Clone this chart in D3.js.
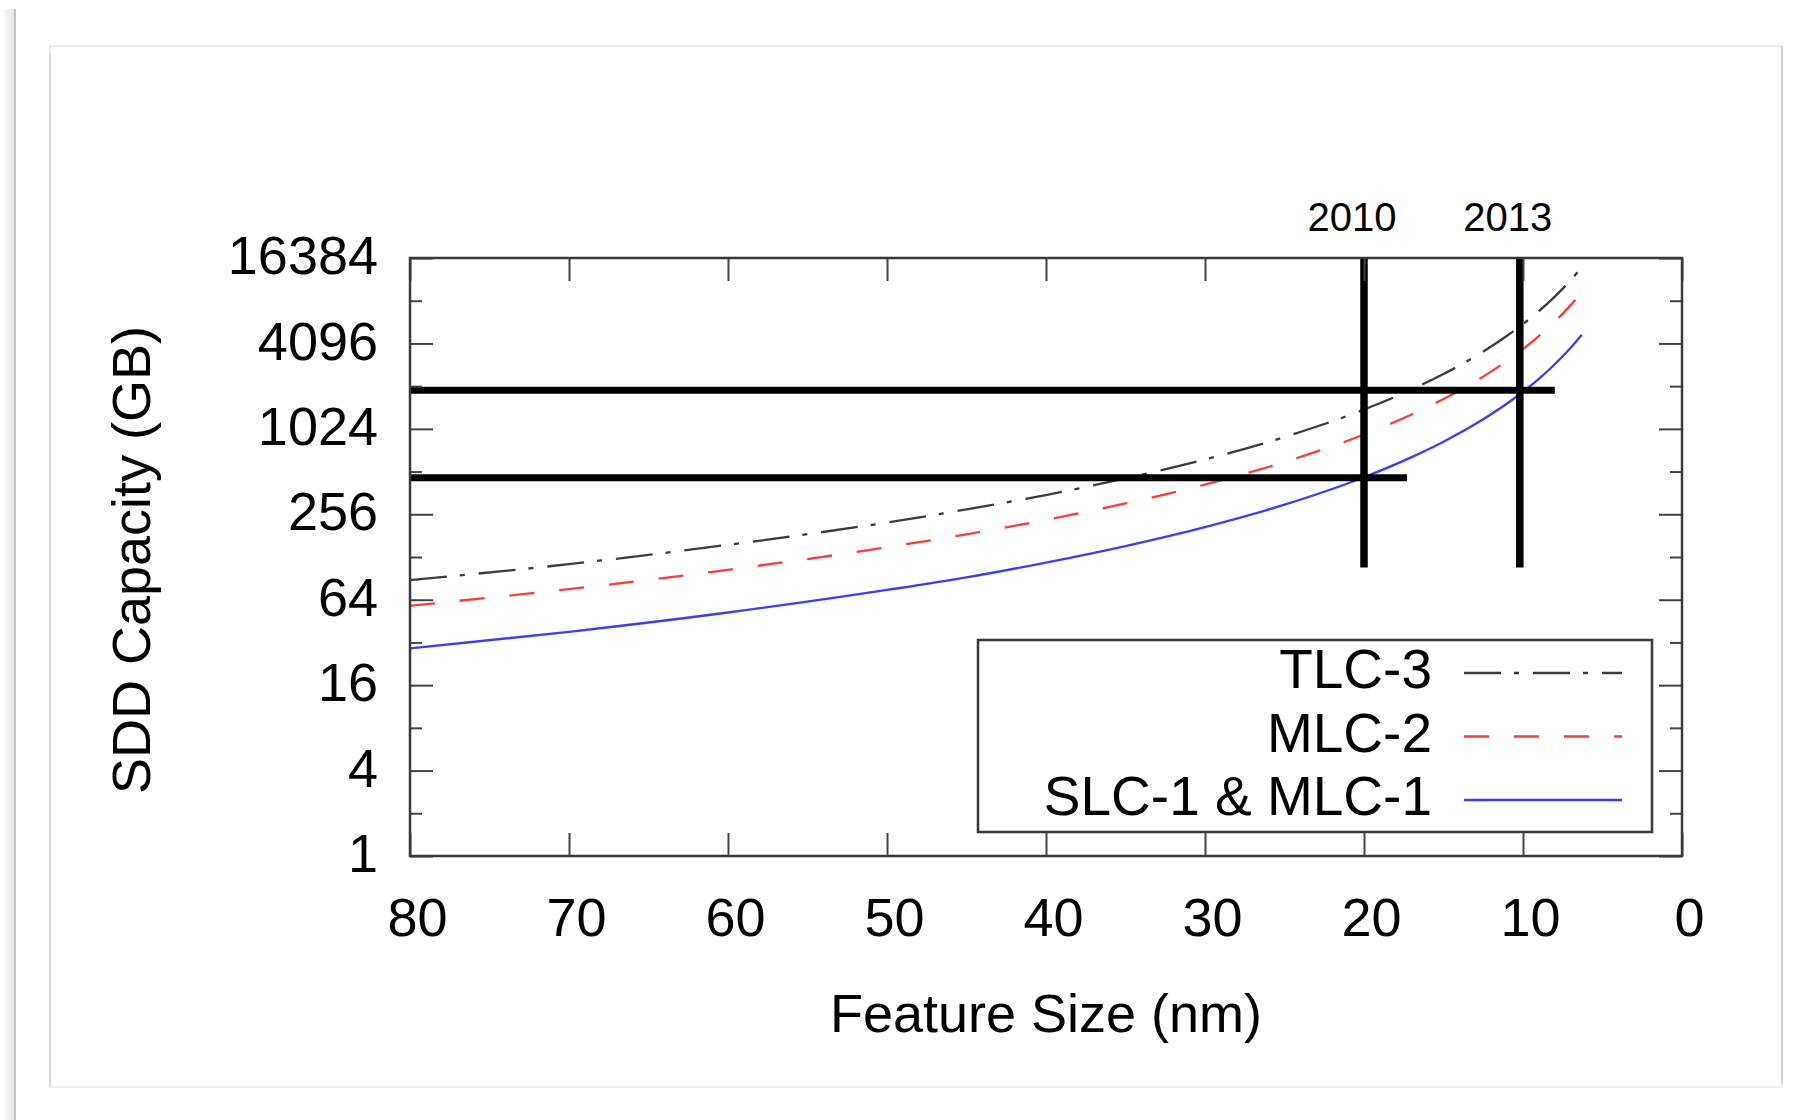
<!DOCTYPE html>
<html>
<head>
<meta charset="utf-8">
<script src="https://cdn.jsdelivr.net/npm/d3@7"></script>
<style>
  body { margin: 0; background: #fff; }
  svg { display: block; font-family: "Liberation Sans", Arial, Helvetica, sans-serif; }
</style>
</head>
<body>
<div id="chart"></div>
<script>
// Values (feature size in nm, capacity in GB)
const featureSizes = [80, 70, 60, 50, 45, 40, 35, 30, 25, 20, 17, 15, 13, 11, 10, 9, 8, 7, 6.3];
const tlc3Capacity = [88, 114, 156, 224, 277, 350, 458, 623, 897, 1401, 1941, 2493, 3318, 4635, 5607, 6921, 8760, 11442, 14127];
const mlc2Capacity = [58, 76, 104, 150, 185, 234, 305, 415, 598, 934, 1294, 1662, 2212, 3090, 3738, 4614, 5840, 7628, 9418];
const slcCapacity = [29, 38, 52, 75, 92, 117, 153, 208, 299, 467, 647, 831, 1106, 1545, 1869, 2307, 2920, 3814, 4709];

const seriesNames = ['TLC-3', 'MLC-2', 'SLC-1 & MLC-1'];

// Year markers and the capacity levels they point at
const years = ['2010', '2013'];
const yearFeatureSizes = [20, 10.2];
const yearLineBottom = 108;
const capacityLevels = [464, 1915];
const capacityLineEnds = [17.3, 8];

const xTicks = [80, 70, 60, 50, 40, 30, 20, 10, 0];
const yTicks = [1, 4, 16, 64, 256, 1024, 4096, 16384];
const yMinorTicks = [2, 8, 32, 128, 512, 2048, 8192];

// Set up dimensions
const width = 1793;
const height = 1120;
const plot = { left: 410, right: 1682, top: 258, bottom: 856 };

const svg = d3.select('#chart')
    .append('svg')
    .attr('width', width)
    .attr('height', height);

// Page panel and shadow
const grad = svg.append('defs').append('linearGradient')
    .attr('id', 'shadow')
    .attr('x1', '0%').attr('x2', '100%');
grad.append('stop').attr('offset', '0%').attr('stop-color', '#ffffff');
grad.append('stop').attr('offset', '100%').attr('stop-color', '#e4e4e4');

svg.append('rect')
    .attr('x', 2).attr('y', 9).attr('width', 12).attr('height', height - 9)
    .attr('fill', 'url(#shadow)');
svg.append('line')
    .attr('x1', 15).attr('x2', 15).attr('y1', 9).attr('y2', height)
    .attr('stroke', '#c4c4c4').attr('stroke-width', 2);

svg.append('rect')
    .attr('x', 50).attr('y', 46).attr('width', 1732).attr('height', 1041)
    .attr('fill', '#fff').attr('stroke', '#efefef').attr('stroke-width', 2);
svg.append('line')
    .attr('x1', 50).attr('x2', 50).attr('y1', 53).attr('y2', 1087)
    .attr('stroke', '#d2d2d2').attr('stroke-width', 1.5);
svg.append('line')
    .attr('x1', 1782).attr('x2', 1782).attr('y1', 46).attr('y2', 1084)
    .attr('stroke', '#d2d2d2').attr('stroke-width', 2);

// Scales
const x = d3.scaleLinear()
    .domain([80, 0])
    .range([plot.left, plot.right]);

const y = d3.scaleLog()
    .base(2)
    .domain([1, 16384])
    .range([plot.bottom, plot.top]);

// Curves
const series = [
    { name: seriesNames[0], values: tlc3Capacity, color: '#3c3c3c', dash: '37,13,5,14' },
    { name: seriesNames[1], values: mlc2Capacity, color: '#ff3c3c', dash: '25,25' },
    { name: seriesNames[2], values: slcCapacity, color: '#3c3cff', dash: null }
];

const line = d3.line()
    .x(d => x(d[0]))
    .y(d => y(d[1]))
    .curve(d3.curveMonotoneX);

svg.selectAll('path.curve')
    .data(series)
    .enter()
    .append('path')
    .attr('class', 'curve')
    .attr('d', s => line(featureSizes.map((f, i) => [f, s.values[i]])))
    .attr('fill', 'none')
    .attr('stroke', s => s.color)
    .attr('stroke-width', 2.3)
    .attr('stroke-dasharray', s => s.dash);

// Thick year markers
svg.selectAll('line.year')
    .data(yearFeatureSizes)
    .enter()
    .append('line')
    .attr('class', 'year')
    .attr('x1', d => x(d)).attr('x2', d => x(d))
    .attr('y1', y(16384)).attr('y2', y(yearLineBottom))
    .attr('stroke', '#000').attr('stroke-width', 7.5);

svg.selectAll('line.level')
    .data(capacityLevels)
    .enter()
    .append('line')
    .attr('class', 'level')
    .attr('x1', x(80)).attr('x2', (d, i) => x(capacityLineEnds[i]))
    .attr('y1', d => y(d)).attr('y2', d => y(d))
    .attr('stroke', '#000').attr('stroke-width', 7);

svg.selectAll('text.year')
    .data(years)
    .enter()
    .append('text')
    .attr('class', 'year')
    .attr('x', (d, i) => x(yearFeatureSizes[i]) - 12)
    .attr('y', 231)
    .attr('text-anchor', 'middle')
    .attr('font-size', '40px')
    .attr('fill', '#000')
    .text(d => d);

// Axes (ticks point inward, mirrored on all sides)
const tickColor = '#444';

function styleAxis(g) {
    g.select('.domain').remove();
    g.selectAll('.tick line').attr('stroke', tickColor).attr('stroke-width', 2);
    g.selectAll('.tick text').attr('fill', '#000').attr('font-size', '54px');
}

svg.append('g')
    .attr('transform', `translate(0,${plot.bottom})`)
    .call(d3.axisBottom(x).tickValues(xTicks).tickSize(-23).tickPadding(42).tickFormat(d3.format('d')))
    .call(styleAxis)
    .call(g => g.selectAll('.tick text').attr('dx', 7).attr('font-family', null));

svg.append('g')
    .attr('transform', `translate(0,${plot.top})`)
    .call(d3.axisTop(x).tickValues(xTicks).tickSize(-23).tickFormat(''))
    .call(styleAxis);

svg.append('g')
    .attr('transform', `translate(${plot.left},0)`)
    .call(d3.axisLeft(y).tickValues(yTicks).tickSize(-23).tickPadding(32).tickFormat(d3.format('d')))
    .call(styleAxis)
    .call(g => g.selectAll('.tick text').attr('dy', '0.29em').attr('font-family', null));

svg.append('g')
    .attr('transform', `translate(${plot.left},0)`)
    .call(d3.axisLeft(y).tickValues(yMinorTicks).tickSize(-12).tickFormat(''))
    .call(styleAxis);

svg.append('g')
    .attr('transform', `translate(${plot.right},0)`)
    .call(d3.axisRight(y).tickValues(yTicks).tickSize(-23).tickFormat(''))
    .call(styleAxis);

svg.append('g')
    .attr('transform', `translate(${plot.right},0)`)
    .call(d3.axisRight(y).tickValues(yMinorTicks).tickSize(-12).tickFormat(''))
    .call(styleAxis);

// Plot frame
svg.append('rect')
    .attr('x', plot.left).attr('y', plot.top)
    .attr('width', plot.right - plot.left)
    .attr('height', plot.bottom - plot.top)
    .attr('fill', 'none')
    .attr('stroke', '#3a3a3a')
    .attr('stroke-width', 2.5);

// Axis titles
svg.append('text')
    .attr('x', (plot.left + plot.right) / 2)
    .attr('y', 1032)
    .attr('text-anchor', 'middle')
    .attr('font-size', '54px')
    .text('Feature Size (nm)');

svg.append('text')
    .attr('transform', 'translate(150,560) rotate(-90)')
    .attr('text-anchor', 'middle')
    .attr('font-size', '54px')
    .text('SDD Capacity (GB)');

// Legend
const legend = svg.append('g');

legend.append('rect')
    .attr('x', 978).attr('y', 640)
    .attr('width', 674).attr('height', 192)
    .attr('fill', '#fff')
    .attr('stroke', '#3a3a3a')
    .attr('stroke-width', 2.5);

const rows = legend.selectAll('g.row')
    .data(series)
    .enter()
    .append('g')
    .attr('class', 'row')
    .attr('transform', (d, i) => `translate(0,${688 + i * 63.5})`);

rows.append('text')
    .attr('x', 1432)
    .attr('text-anchor', 'end')
    .attr('font-size', '55px')
    .text(d => d.name);

rows.append('line')
    .attr('x1', 1464).attr('x2', 1622)
    .attr('y1', -15).attr('y2', -15)
    .attr('stroke', d => d.color)
    .attr('stroke-width', 2.3)
    .attr('stroke-dasharray', d => d.dash);
</script>
</body>
</html>
